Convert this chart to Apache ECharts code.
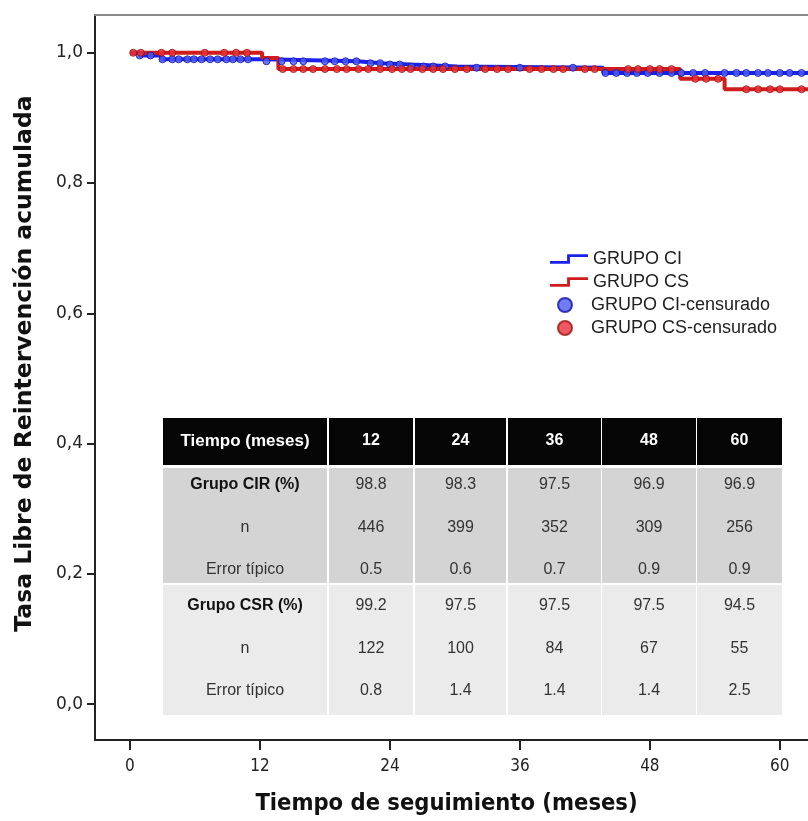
<!DOCTYPE html>
<html>
<head>
<meta charset="utf-8">
<script src="https://cdn.jsdelivr.net/npm/echarts@6/dist/echarts.min.js"></script>
<style>
  html, body { margin: 0; padding: 0; background: #fff; }
  #main { width: 808px; height: 821px; }
</style>
</head>
<body>
<div id="main"></div>
<script>
// ticks
var xTicks = [0, 12, 24, 36, 48, 60];
var yTicks = [0, 0.2, 0.4, 0.6, 0.8, 1.0];

// Kaplan-Meier steps (tiempo en meses, tasa acumulada)
var ciTimes = [0, 0.9, 2.9, 12.4, 21.0, 23.2, 25.9, 30.2, 43.7, 62.6];
var ciSurv = [1.000, 0.996, 0.990, 0.987, 0.984, 0.982, 0.979, 0.977, 0.969, 0.969];
var csTimes = [0, 12.2, 13.7, 50.8, 54.9, 62.6];
var csSurv = [1.000, 0.992, 0.975, 0.960, 0.944, 0.944];

// censurados (tiempos)
var ciCens = [0.9, 1.9, 3.0, 3.9, 4.5, 5.3, 5.9, 6.6, 7.4, 8.1, 8.9, 9.5, 10.2, 10.9, 12.6,
    14.0, 15.1, 16.0, 18.0, 18.9, 19.9, 20.9, 22.2, 23.1, 24.0, 24.9, 26.0, 27.1, 28.0, 29.1,
    32.0, 36.0, 40.9, 43.9, 44.9, 45.9, 46.8, 47.8, 48.9, 50.0, 50.9, 52.0, 53.1, 54.9, 56.0,
    56.9, 58.0, 58.9, 60.0, 60.9, 62.0];
var csCens = [0.3, 1.0, 2.9, 3.9, 6.9, 8.7, 9.8, 10.8, 14.1, 15.1, 16.0, 16.9, 18.0, 19.1, 20.0,
    21.1, 22.0, 23.1, 24.2, 25.1, 25.9, 27.0, 28.0, 28.9, 30.0, 31.1, 32.8, 33.9, 34.9, 36.9,
    38.0, 39.1, 40.0, 42.0, 42.9, 46.0, 46.9, 48.0, 48.9, 50.0, 52.2, 53.2, 54.3, 56.9, 58.0,
    59.1, 60.0, 62.0];

// tabla
var tableMonths = ['12', '24', '36', '48', '60'];
var cirPct = ['98.8', '98.3', '97.5', '96.9', '96.9'];
var cirN = ['446', '399', '352', '309', '256'];
var cirErr = ['0.5', '0.6', '0.7', '0.9', '0.9'];
var csrPct = ['99.2', '97.5', '97.5', '97.5', '94.5'];
var csrN = ['122', '100', '84', '67', '55'];
var csrErr = ['0.8', '1.4', '1.4', '1.4', '2.5'];

function zip(xs, ys) {
    return xs.map(function (x, i) { return [x, ys[i]]; });
}

function levelAt(times, surv, t) {
    var v = surv[0];
    for (var i = 0; i < times.length; i++) {
        if (times[i] <= t) v = surv[i];
    }
    return v;
}

function censPoints(cens, times, surv) {
    return cens.map(function (t) { return [t, levelAt(times, surv, t)]; });
}

/**
 * tabla como graphic
 */
function buildTable() {
    var colX = [163, 329, 415, 508, 602, 697];
    var colW = [164, 84, 91, 93, 94, 85];
    var els = [];
    var fontBody = '16px "Liberation Sans", Arial, sans-serif';
    var fontBold = 'bold 16px "Liberation Sans", Arial, sans-serif';

    function cell(x, y, w, h, fill) {
        els.push({ type: 'rect', shape: { x: x, y: y, width: w, height: h }, style: { fill: fill }, silent: true });
    }
    function txt(x, y, s, font, color) {
        els.push({ type: 'text', x: x, y: y, style: { text: s, font: font, fill: color, align: 'center', verticalAlign: 'middle' }, silent: true });
    }

    for (var c = 0; c < 6; c++) {
        cell(colX[c], 418, colW[c], 47, '#050505');
        cell(colX[c], 468, colW[c], 115, '#d4d4d4');
        cell(colX[c], 585, colW[c], 130, '#ebebeb');
    }
    txt(colX[0] + colW[0] / 2, 441, 'Tiempo (meses)', 'bold 17px "Liberation Sans", Arial, sans-serif', '#fff');
    tableMonths.forEach(function (m, i) {
        txt(colX[i + 1] + colW[i + 1] / 2, 441, m, 'bold 16px "Liberation Sans", Arial, sans-serif', '#fff');
    });

    var rows = [
        { y: 485, label: 'Grupo CIR (%)', bold: true, vals: cirPct },
        { y: 528, label: 'n', bold: false, vals: cirN },
        { y: 570, label: 'Error típico', bold: false, vals: cirErr },
        { y: 606, label: 'Grupo CSR (%)', bold: true, vals: csrPct },
        { y: 649, label: 'n', bold: false, vals: csrN },
        { y: 691, label: 'Error típico', bold: false, vals: csrErr }
    ];
    rows.forEach(function (r) {
        txt(colX[0] + colW[0] / 2, r.y, r.label, r.bold ? fontBold : fontBody, r.bold ? '#111' : '#333');
        r.vals.forEach(function (v, i) {
            txt(colX[i + 1] + colW[i + 1] / 2, r.y, v, fontBody, '#333');
        });
    });
    return els;
}

var stepIcon = 'path://M0,7 L18,7 L18,0 L40,0 L40,3 L21,3 L21,10 L0,10 Z';
var legendFont = { fontSize: 18, lineHeight: 18, color: '#222', fontFamily: '"Liberation Sans", Arial, sans-serif' };

var myChart = echarts.init(document.getElementById('main'));
var option = {
    backgroundColor: '#fff',
    animation: false,
    grid: { left: 95, right: 0, top: 15, bottom: 81 },
    legend: [
        {
            orient: 'vertical',
            left: 545,
            top: 245,
            itemWidth: 38,
            itemHeight: 10,
            itemGap: 5,
            selectedMode: false,
            textStyle: legendFont,
            data: [
                { name: 'GRUPO CI', icon: stepIcon },
                { name: 'GRUPO CS', icon: stepIcon }
            ]
        },
        {
            orient: 'vertical',
            left: 552,
            top: 291,
            itemWidth: 42,
            itemHeight: 14,
            itemGap: 5,
            selectedMode: false,
            textStyle: legendFont,
            data: [
                { name: 'GRUPO CI-censurado', icon: 'circle', itemStyle: { color: '#4c5bf4' } },
                { name: 'GRUPO CS-censurado', icon: 'circle', itemStyle: { color: '#e8323a' } }
            ]
        }
    ],
    xAxis: [
        {
            type: 'value',
            min: -3.23,
            max: 62.6,
            name: 'Tiempo de seguimiento (meses)',
            nameLocation: 'middle',
            nameGap: 52,
            nameTextStyle: {
                fontSize: 23.5,
                fontWeight: 'bold',
                color: '#111',
                fontFamily: '"DejaVu Sans Condensed", "DejaVu Sans", sans-serif',
                padding: [0, 10, 0, 0]
            },
            splitLine: { show: false },
            axisLine: { show: true, onZero: false, lineStyle: { color: '#222', width: 2 } },
            axisTick: { show: true, customValues: xTicks, length: 10, lineStyle: { color: '#222', width: 2 } },
            axisLabel: {
                customValues: xTicks,
                margin: 18,
                fontSize: 17,
                color: '#222',
                fontFamily: '"Liberation Sans Narrow", "DejaVu Sans Condensed", sans-serif'
            }
        },
        {
            type: 'value',
            position: 'top',
            min: -3.23,
            max: 62.6,
            splitLine: { show: false },
            axisLine: { show: true, onZero: false, lineStyle: { color: '#8a8a8a', width: 2 } },
            axisTick: { show: false },
            axisLabel: { show: false }
        }
    ],
    yAxis: {
        type: 'value',
        min: -0.055,
        max: 1.058,
        name: 'Tasa Libre de Reintervención acumulada',
        nameLocation: 'middle',
        nameGap: 58,
        nameTextStyle: {
            fontSize: 23.5,
            fontWeight: 'bold',
            color: '#111',
            fontFamily: '"DejaVu Sans", sans-serif',
            padding: [0, 0, 0, 28]
        },
        splitLine: { show: false },
        axisLine: { show: true, onZero: false, lineStyle: { color: '#222', width: 2 } },
        axisTick: { show: true, customValues: yTicks, length: 8, lineStyle: { color: '#222', width: 2 } },
        axisLabel: {
            customValues: yTicks,
            margin: 12,
            fontSize: 17,
            color: '#222',
            fontFamily: '"DejaVu Sans", sans-serif',
            formatter: function (v) { return v.toFixed(1).replace('.', ','); }
        }
    },
    series: [
        {
            name: 'GRUPO CI',
            type: 'line',
            step: 'end',
            showSymbol: false,
            data: zip(ciTimes, ciSurv),
            lineStyle: { color: '#1a22ea', width: 4 },
            itemStyle: { color: '#1a22ea' },
            z: 2
        },
        {
            name: 'GRUPO CS',
            type: 'line',
            step: 'end',
            showSymbol: false,
            data: zip(csTimes, csSurv),
            lineStyle: { color: '#d01c1c', width: 4 },
            itemStyle: { color: '#d01c1c' },
            z: 3
        },
        {
            name: 'GRUPO CI-censurado',
            type: 'scatter',
            symbol: 'circle',
            symbolSize: 7,
            data: censPoints(ciCens, ciTimes, ciSurv),
            itemStyle: { color: '#4c5bf4', borderColor: '#1212a8', borderWidth: 1 },
            z: 4
        },
        {
            name: 'GRUPO CS-censurado',
            type: 'scatter',
            symbol: 'circle',
            symbolSize: 7,
            data: censPoints(csCens, csTimes, csSurv),
            itemStyle: { color: '#e8323a', borderColor: '#a01010', borderWidth: 1 },
            z: 5
        }
    ],
    graphic: buildTable()
};
myChart.setOption(option, true);
</script>
</body>
</html>
